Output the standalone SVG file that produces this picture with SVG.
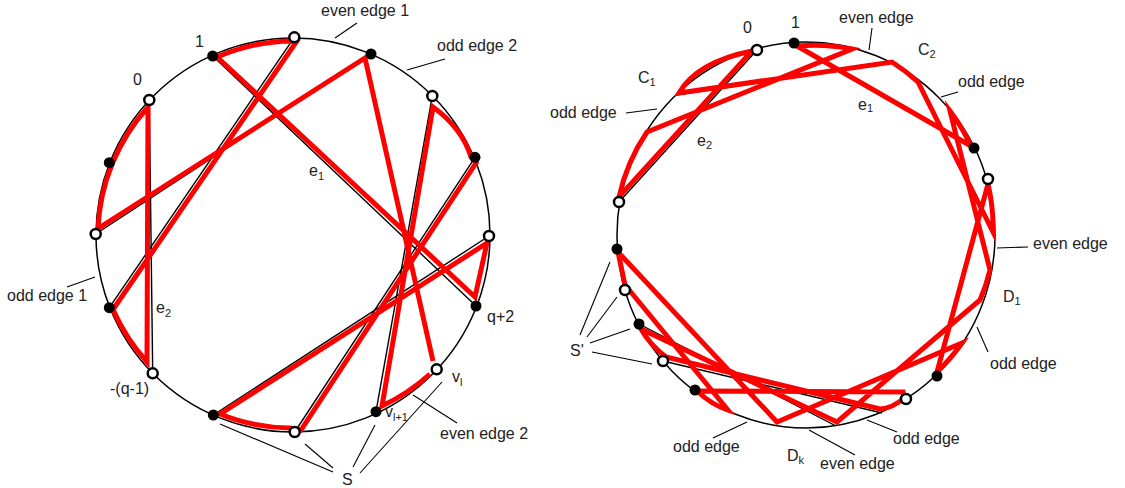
<svg xmlns="http://www.w3.org/2000/svg" width="1125" height="488" viewBox="0 0 1125 488">
<style>
.circ{fill:none;stroke:#000;stroke-width:1.5}
.bk{fill:none;stroke:#000;stroke-width:1.4}
.rd{fill:none;stroke:#f00;stroke-width:5;stroke-linejoin:miter;stroke-miterlimit:6}
.ld{fill:none;stroke:#000;stroke-width:1.1}
.on{fill:#fff;stroke:#000;stroke-width:2.5}
.fn{fill:#000}
text{font-family:"Liberation Sans",Arial,sans-serif;font-size:16px;fill:#222}
.sub{font-size:11px}
</style>
<rect width="1125" height="488" fill="#fff"/>
<g id="circles">
<circle class="circ" cx="293" cy="235" r="197"/>
<ellipse class="circ" cx="806" cy="235" rx="189" ry="193"/>
</g>
<g id="connectors">
<g id="left-black">
<line class="bk" x1="294.3" y1="37.3" x2="109.3" y2="307.7"/>
<line class="bk" x1="212.7" y1="56" x2="476" y2="306"/>
<line class="bk" x1="371" y1="54" x2="95.7" y2="234"/>
<line class="bk" x1="432.3" y1="96" x2="376" y2="411.7"/>
<line class="bk" x1="475" y1="157.3" x2="294.7" y2="432"/>
<line class="bk" x1="489" y1="236" x2="213.3" y2="415"/>
<line class="bk" x1="149.3" y1="100" x2="152.7" y2="373.3"/>
</g>
<path id="left-red" class="rd" d="M217,57 A194,194 0 0 1 292,41 L296.5,41.5 L113,309.5 A194,194 0 0 0 147,362 L148,107 A194,194 0 0 0 98,228.5 L365,58 L433,361 M430,374 A194,194 0 0 1 382,406 L433,107 Q462,128 471,157 L476,163 L301,430 L290,428 A194,194 0 0 1 220,414 L487,243 L475,297 L217,57"/>
<g id="right-black">
<line class="bk" x1="676" y1="95" x2="892" y2="63"/>
<line class="bk" x1="619" y1="202" x2="757" y2="50"/>
<line class="bk" x1="663" y1="361" x2="882" y2="413"/>
<line class="bk" x1="639" y1="324" x2="836" y2="426"/>
</g>
<path id="right-red" class="rd" d="M971,146 L797,46 A191,191 0 0 1 852,49 L647,132 A189,189 0 0 0 619,197 L752,51 Q697,62 679,93 L892,62 A190,190 0 0 1 918,82 L993,232 A190,190 0 0 0 988,184 L937,372 A190,190 0 0 0 962,343 L777,422 L618,252 L625,285 L728,410 Q712,405 697,391 L903,392 L904,398 Q893,408 880,409 L666,357 Q650,345 641,329 L837,422 L980,300 A190,190 0 0 0 990,270 L950,111 A190,190 0 0 1 971,146"/>
<g id="leaders">
<line class="ld" x1="357" y1="23" x2="335" y2="38"/>
<line class="ld" x1="445" y1="59" x2="407" y2="70"/>
<line class="ld" x1="67" y1="287" x2="95" y2="277"/>
<line class="ld" x1="457" y1="423" x2="413" y2="395"/>
<line class="ld" x1="333" y1="472" x2="220" y2="424"/>
<line class="ld" x1="333" y1="468" x2="305" y2="444"/>
<line class="ld" x1="353" y1="467" x2="375" y2="425"/>
<line class="ld" x1="360" y1="473" x2="442" y2="382"/>
<line class="ld" x1="626" y1="113" x2="657" y2="109"/>
<line class="ld" x1="872" y1="28" x2="869" y2="50"/>
<line class="ld" x1="958" y1="92" x2="941" y2="97"/>
<line class="ld" x1="997" y1="248" x2="1028" y2="247"/>
<line class="ld" x1="977" y1="327" x2="988" y2="352"/>
<line class="ld" x1="867" y1="420" x2="897" y2="432"/>
<line class="ld" x1="809" y1="430" x2="855" y2="455"/>
<line class="ld" x1="713" y1="438" x2="747" y2="422"/>
<line class="ld" x1="580" y1="335" x2="610" y2="262"/>
<line class="ld" x1="587" y1="337" x2="617" y2="297"/>
<line class="ld" x1="590" y1="343" x2="630" y2="329"/>
<line class="ld" x1="592" y1="352" x2="652" y2="364"/>
</g>
</g>
<g id="left-nodes">
<circle id="lk0" class="on" cx="294.3" cy="37.3" r="5"/>
<circle id="lk1" class="fn" cx="371" cy="54" r="5.5"/>
<circle id="lk2" class="on" cx="432.3" cy="96" r="5"/>
<circle id="lk3" class="fn" cx="475" cy="157.3" r="5.5"/>
<circle id="lk4" class="on" cx="489" cy="236" r="5"/>
<circle id="lk5" class="fn" cx="476" cy="306" r="5.5"/>
<circle id="lk6" class="on" cx="436.7" cy="369.3" r="5"/>
<circle id="lk7" class="fn" cx="376" cy="411.7" r="5.5"/>
<circle id="lk8" class="on" cx="294.7" cy="432" r="5"/>
<circle id="lk9" class="fn" cx="213.3" cy="415" r="5.5"/>
<circle id="lk10" class="on" cx="152.7" cy="373.3" r="5"/>
<circle id="lk11" class="fn" cx="109.3" cy="307.7" r="5.5"/>
<circle id="lk12" class="on" cx="95.7" cy="234" r="5"/>
<circle id="lk13" class="fn" cx="109.3" cy="162.7" r="5.5"/>
<circle id="lk14" class="on" cx="149.3" cy="100" r="5"/>
<circle id="lk15" class="fn" cx="212.7" cy="56" r="5.5"/>
</g>
<g id="right-nodes">
<circle id="r0" class="on" cx="757" cy="50" r="5"/>
<circle id="r1" class="fn" cx="794" cy="43" r="5.5"/>
<circle id="rI" class="fn" cx="974" cy="148" r="5.5"/>
<circle id="rJ" class="on" cx="988" cy="179" r="5"/>
<circle id="rK" class="fn" cx="937" cy="376" r="5.5"/>
<circle id="rL" class="on" cx="906" cy="399" r="5"/>
<circle id="rQ" class="fn" cx="695" cy="390" r="5.5"/>
<circle id="rP" class="on" cx="663" cy="361" r="5"/>
<circle id="rO" class="fn" cx="639" cy="324" r="5.5"/>
<circle id="rN" class="on" cx="625" cy="290" r="5"/>
<circle id="rM" class="fn" cx="617" cy="249" r="5.5"/>
<circle id="rD" class="on" cx="619" cy="202" r="5"/>
</g>
<g id="labels">
<text x="321" y="16">even edge 1</text>
<text x="437" y="51">odd edge 2</text>
<text x="195" y="47">1</text>
<text x="133" y="85">0</text>
<text x="309" y="176">e<tspan class="sub" dy="4">1</tspan></text>
<text x="156" y="313">e<tspan class="sub" dy="4">2</tspan></text>
<text x="7" y="301">odd edge 1</text>
<text x="110" y="394">-(q-1)</text>
<text x="487" y="322">q+2</text>
<text x="452" y="382">v<tspan class="sub" dy="4">l</tspan></text>
<text x="385" y="417">v<tspan class="sub" dy="4">l+1</tspan></text>
<text x="440" y="439">even edge 2</text>
<text x="342" y="485">S</text>
<text x="743" y="33">0</text>
<text x="791" y="28">1</text>
<text x="638" y="83">C<tspan class="sub" dy="3">1</tspan></text>
<text x="550" y="118">odd edge</text>
<text x="697" y="146">e<tspan class="sub" dy="3">2</tspan></text>
<text x="839" y="23">even edge</text>
<text x="918" y="55">C<tspan class="sub" dy="3">2</tspan></text>
<text x="958" y="87">odd edge</text>
<text x="858" y="110">e<tspan class="sub" dy="2">1</tspan></text>
<text x="1033" y="249">even edge</text>
<text x="1003" y="302">D<tspan class="sub" dy="3">1</tspan></text>
<text x="990" y="369">odd edge</text>
<text x="893" y="444">odd edge</text>
<text x="820" y="469">even edge</text>
<text x="787" y="461">D<tspan class="sub" dy="3">k</tspan></text>
<text x="673" y="452">odd edge</text>
<text x="570" y="356">S'</text>
</g>
</svg>
